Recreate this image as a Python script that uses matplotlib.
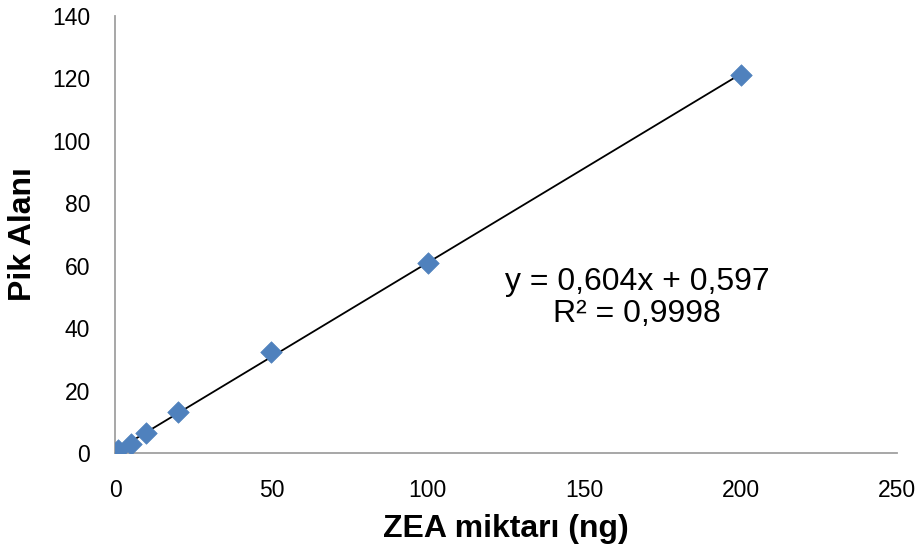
import matplotlib
matplotlib.use("Agg")
import matplotlib.pyplot as plt
import numpy as np

plt.rcParams['font.family'] = ['Liberation Sans', 'DejaVu Sans']

x_vals = [1, 5, 10, 20, 50, 100, 200]
y_vals = [1.0, 3.0, 6.4, 13.0, 32.3, 61.0, 121.1]
slope = 0.604
intercept = 0.597
x_ticks = [0, 50, 100, 150, 200, 250]
y_ticks = [0, 20, 40, 60, 80, 100, 120, 140]

fig = plt.figure(figsize=(9.23, 5.54), dpi=100)
ax = fig.add_axes([115/923, 1-453/554, (897-115)/923, (453-16)/554])

xl = np.array([min(x_vals), max(x_vals)])
ax.plot(xl, slope*xl + intercept, color='black', lw=1.3, zorder=2)
ax.scatter(x_vals, y_vals, marker='D', s=120, color='#4F81BD', zorder=3,
           edgecolors='#4F81BD', linewidths=0.5)

ax.set_xlim(0, 250)
ax.set_ylim(0, 140)
ax.set_xticks(x_ticks)
ax.set_yticks(y_ticks)
ax.tick_params(length=0, labelsize=16.5)
ax.tick_params(axis='x', pad=19)
ax.tick_params(axis='y', pad=18)
for s in ['top', 'right']:
    ax.spines[s].set_visible(False)
for s in ['left', 'bottom']:
    ax.spines[s].set_color('#A0A0A0')
    ax.spines[s].set_linewidth(1.3)

ax.set_xlabel('ZEA miktarı (ng)', fontsize=23, fontweight='bold', labelpad=8)
ax.set_ylabel('Pik Alanı', fontsize=23, fontweight='bold', labelpad=10)

ax.text(637/923, 1-298/554, 'y = 0,604x + 0,597\nR² = 0,9998', transform=fig.transFigure,
        ha='center', va='center', fontsize=23, linespacing=1.05)

fig.savefig('out.png', dpi=100)
